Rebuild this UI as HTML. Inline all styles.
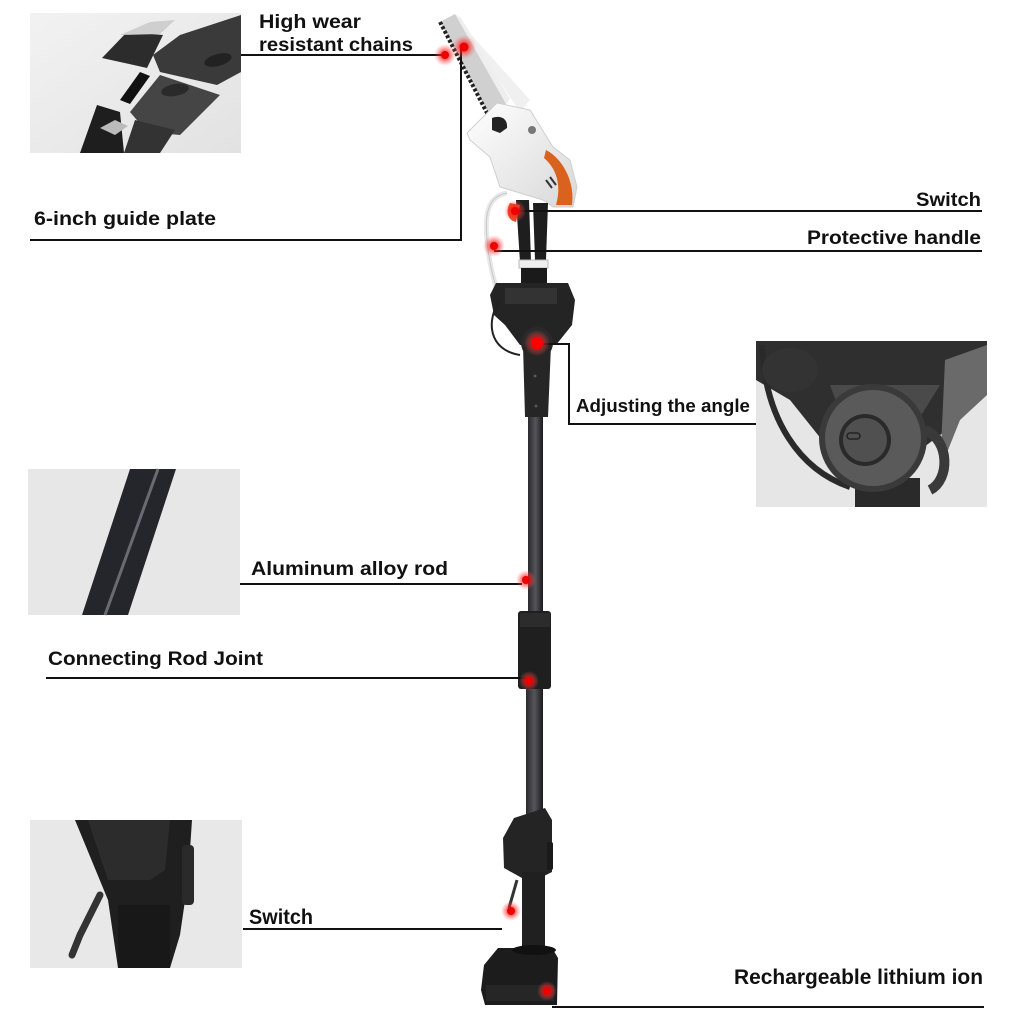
<!DOCTYPE html>
<html><head><meta charset="utf-8"><style>
html,body{margin:0;padding:0;background:#fff;}
svg{display:block;}
text{font-family:"Liberation Sans",sans-serif;font-weight:bold;fill:#111;}
</style></head><body>
<svg width="1024" height="1024" viewBox="0 0 1024 1024" xmlns="http://www.w3.org/2000/svg">
<defs>
<radialGradient id="glow"><stop offset="0" stop-color="#ff0000" stop-opacity="0.9"/><stop offset="0.45" stop-color="#ff2020" stop-opacity="0.6"/><stop offset="1" stop-color="#ff6060" stop-opacity="0"/></radialGradient>
<linearGradient id="insbg" x1="0" y1="0" x2="1" y2="1"><stop offset="0" stop-color="#f2f2f2"/><stop offset="1" stop-color="#e2e2e2"/></linearGradient>
<linearGradient id="rodg" x1="0" x2="1"><stop offset="0" stop-color="#2a2a2e"/><stop offset="0.5" stop-color="#55555a"/><stop offset="1" stop-color="#1a1a1e"/></linearGradient>
<linearGradient id="bodyg" x1="0" y1="0" x2="1" y2="1"><stop offset="0" stop-color="#ffffff"/><stop offset="1" stop-color="#d8d8d8"/></linearGradient>
</defs>

<!-- Top-left inset (chain) -->
<rect x="30" y="13" width="211" height="140" fill="url(#insbg)"/>
<polygon points="153,55 180,35 241,15 241,72 217,85 160,72" fill="#3a3a3a"/>
<polygon points="102,58 127,32 163,35 147,68" fill="#2c2c2c"/>
<polygon points="120,35 150,22 175,20 160,34" fill="#cfcfcf"/>
<polygon points="130,112 160,75 220,95 180,135 147,132" fill="#454545"/>
<polygon points="120,100 140,72 150,76 130,104" fill="#111"/>
<polygon points="80,153 97,105 120,112 124,153" fill="#1e1e1e"/>
<polygon points="124,153 135,120 175,130 160,153" fill="#333"/>
<ellipse cx="218" cy="60" rx="14" ry="6" fill="#222" transform="rotate(-15 218 60)"/>
<ellipse cx="175" cy="90" rx="14" ry="6" fill="#2a2a2a" transform="rotate(-10 175 90)"/>
<polygon points="100,128 115,120 128,126 115,135" fill="#bbb"/>

<!-- Right inset (angle knob) -->
<rect x="756" y="341" width="231" height="166" fill="#e6e6e6"/>
<polygon points="756,341 987,341 987,370 960,420 920,450 830,450 790,400 756,380" fill="#2f2f2f"/>
<polygon points="830,385 940,385 915,425 845,425" fill="#4a4a4a"/>
<polygon points="945,360 987,345 987,395 960,420 940,470" fill="#6a6a6a"/>
<path d="M762,345 C765,420 800,470 850,487" stroke="#2a2a2a" stroke-width="6" fill="none"/>
<ellipse cx="790" cy="370" rx="28" ry="22" fill="#333"/>
<rect x="855" y="478" width="65" height="29" fill="#2a2a2a"/>
<circle cx="873" cy="438" r="54" fill="#3a3a3a"/>
<circle cx="873" cy="438" r="48" fill="#5a5a5a"/>
<circle cx="865" cy="440" r="26" fill="#2a2a2a"/>
<circle cx="865" cy="440" r="22" fill="#505050"/>
<rect x="847" y="433" width="13" height="6" rx="3" fill="none" stroke="#222" stroke-width="1.5"/>
<path d="M925,430 C950,440 950,480 930,490" stroke="#3a3a3a" stroke-width="10" fill="none"/>

<!-- Left middle inset (rod) -->
<rect x="28" y="469" width="212" height="146" fill="#e7e7e7"/>
<polygon points="130,469 176,469 128,615 82,615" fill="#25252c"/>
<line x1="158" y1="469" x2="105" y2="615" stroke="#6a6a72" stroke-width="3"/>

<!-- Bottom-left inset (switch) -->
<rect x="30" y="820" width="212" height="148" fill="#e8e8e8"/>
<path d="M75,820 L192,820 L188,880 L180,935 L170,968 L118,968 L108,900 Z" fill="#1f1f1f"/>
<path d="M88,820 L170,820 L165,870 L150,880 L108,880 Z" fill="#2c2c2c"/>
<rect x="182" y="845" width="12" height="60" rx="4" fill="#2a2a2a"/>
<path d="M100,895 L80,935 L72,955" stroke="#333" stroke-width="7" fill="none" stroke-linecap="round"/>
<rect x="118" y="905" width="52" height="63" fill="#181818"/>

<!-- Product: saw bar -->
<polygon points="458,20 530,100 520,112" fill="#f0f0f0"/>
<polygon points="440,22 455,14 508,102 490,116" fill="#d0d0d0"/>
<path d="M440,22 L488,115" stroke="#222" stroke-width="4" stroke-dasharray="3,2" fill="none"/>
<polygon points="455,14 461,18 510,99 506,104" fill="#eee"/>
<!-- body -->
<path d="M467,133 L497,103 L530,110 L553,147 L570,160 L577,187 L573,207 L553,207 L543,200 L520,193 L500,187 L490,157 L470,140 Z" fill="url(#bodyg)" stroke="#cfcfcf" stroke-width="1"/>
<path d="M546,150 C565,160 575,185 572,205 L556,205 C562,185 556,168 544,158 Z" fill="#d9621e"/>
<path d="M492,118 C500,115 508,118 507,128 L500,133 L492,130 Z" fill="#222"/>
<circle cx="532" cy="130" r="4" fill="#777"/>
<line x1="546" y1="180" x2="552" y2="188" stroke="#333" stroke-width="2"/>
<line x1="550" y1="177" x2="556" y2="185" stroke="#333" stroke-width="2"/>
<!-- guard -->
<path d="M507,193 C490,196 484,210 487,240 C489,265 495,285 500,300" stroke="#e8e8e8" stroke-width="5" fill="none"/>
<path d="M507,193 C490,196 484,210 487,240 C489,265 495,285 500,300" stroke="#c8c8c8" stroke-width="1" fill="none"/>
<!-- handles -->
<polygon points="516,200 529,200 531,262 520,262" fill="#1e1e1e"/>
<polygon points="533,203 548,203 546,260 535,260" fill="#1e1e1e"/>
<path d="M510,203 C505,212 508,220 516,222 L520,205 Z" fill="#e04a1a"/>
<rect x="519" y="260" width="29" height="8" fill="#eee" stroke="#bbb" stroke-width="1"/>
<rect x="521" y="268" width="26" height="15" fill="#1a1a1a"/>
<!-- motor head -->
<path d="M496,283 L568,283 L575,300 L572,325 L556,345 L520,345 L505,325 L494,315 L490,295 Z" fill="#242424"/>
<rect x="505" y="288" width="52" height="16" fill="#333"/>
<path d="M500,300 C486,320 488,350 520,355" stroke="#222" stroke-width="2" fill="none"/>
<circle cx="537" cy="343" r="16" fill="#2a2a2a"/>
<!-- grip -->
<path d="M523,345 L551,345 L548,417 L525,417 Z" fill="#262626"/>
<circle cx="535" cy="376" r="1.5" fill="#555"/>
<circle cx="536" cy="406" r="1.5" fill="#555"/>
<!-- rod -->
<rect x="528" y="417" width="15" height="196" fill="url(#rodg)"/>
<rect x="518" y="611" width="33" height="78" rx="3" fill="#1f1f1f"/>
<rect x="520" y="613" width="30" height="14" fill="#2c2c2c"/>
<rect x="526" y="689" width="17" height="128" fill="url(#rodg)"/>
<!-- lower handle -->
<path d="M514,818 L545,808 L552,820 L552,872 L540,878 L522,878 L504,868 L503,838 Z" fill="#242424"/>
<rect x="547" y="842" width="6" height="28" rx="2" fill="#1a1a1a"/>
<rect x="522" y="872" width="23" height="80" fill="#202020"/>
<line x1="517" y1="880" x2="509" y2="908" stroke="#333" stroke-width="3"/>
<!-- battery -->
<path d="M498,948 L552,948 L558,958 L557,1005 L485,1005 L481,990 L484,965 Z" fill="#1c1c1c"/>
<ellipse cx="534" cy="950" rx="22" ry="5" fill="#111"/>
<rect x="486" y="985" width="68" height="16" fill="#262626"/>

<!-- connector lines -->
<g stroke="#111" stroke-width="2" fill="none">
<line x1="241" y1="55" x2="445" y2="55"/>
<polyline points="30,240 461,240 461,48"/>
<line x1="515" y1="211" x2="982" y2="211"/>
<line x1="494" y1="251" x2="982" y2="251"/>
<polyline points="537,344 569,344 569,424 756,424"/>
<line x1="240" y1="584" x2="522" y2="584"/>
<line x1="46" y1="678" x2="526" y2="678"/>
<line x1="243" y1="929" x2="502" y2="929"/>
<line x1="552" y1="1007" x2="984" y2="1007"/>
</g>

<!-- red dots -->
<g>
<circle cx="445" cy="55" r="11" fill="url(#glow)"/><circle cx="445" cy="55" r="4" fill="#e00"/>
<circle cx="464" cy="47" r="12" fill="url(#glow)"/><circle cx="464" cy="47" r="4.5" fill="#e00"/>
<circle cx="515" cy="211" r="11" fill="url(#glow)"/><circle cx="515" cy="211" r="4" fill="#e00"/>
<circle cx="494" cy="246" r="11" fill="url(#glow)"/><circle cx="494" cy="246" r="4" fill="#e00"/>
<circle cx="537" cy="343" r="13" fill="url(#glow)"/><circle cx="537" cy="343" r="6" fill="#f00"/>
<circle cx="526" cy="580" r="10" fill="url(#glow)"/><circle cx="526" cy="580" r="4" fill="#e00"/>
<circle cx="529" cy="681" r="10" fill="url(#glow)"/><circle cx="529" cy="681" r="4" fill="#e00"/>
<circle cx="511" cy="911" r="10" fill="url(#glow)"/><circle cx="511" cy="911" r="4" fill="#e00"/>
<circle cx="547" cy="991" r="10" fill="url(#glow)"/><circle cx="547" cy="991" r="4" fill="#e00"/>
</g>

<!-- labels -->
<text x="259" y="28" font-size="19" textLength="102" lengthAdjust="spacingAndGlyphs">High wear</text>
<text x="259" y="51" font-size="19" textLength="154" lengthAdjust="spacingAndGlyphs">resistant chains</text>
<text x="34" y="225" font-size="19" textLength="182" lengthAdjust="spacingAndGlyphs">6-inch guide plate</text>
<text x="916" y="206" font-size="19" textLength="65" lengthAdjust="spacingAndGlyphs">Switch</text>
<text x="807" y="244" font-size="19" textLength="174" lengthAdjust="spacingAndGlyphs">Protective handle</text>
<text x="576" y="412" font-size="18" textLength="174" lengthAdjust="spacingAndGlyphs">Adjusting the angle</text>
<text x="251" y="575" font-size="19" textLength="197" lengthAdjust="spacingAndGlyphs">Aluminum alloy rod</text>
<text x="48" y="665" font-size="19" textLength="215" lengthAdjust="spacingAndGlyphs">Connecting Rod Joint</text>
<text x="249" y="924" font-size="21" textLength="64" lengthAdjust="spacingAndGlyphs">Switch</text>
<text x="734" y="984" font-size="21" textLength="249" lengthAdjust="spacingAndGlyphs">Rechargeable lithium ion</text>
</svg>
</body></html>
